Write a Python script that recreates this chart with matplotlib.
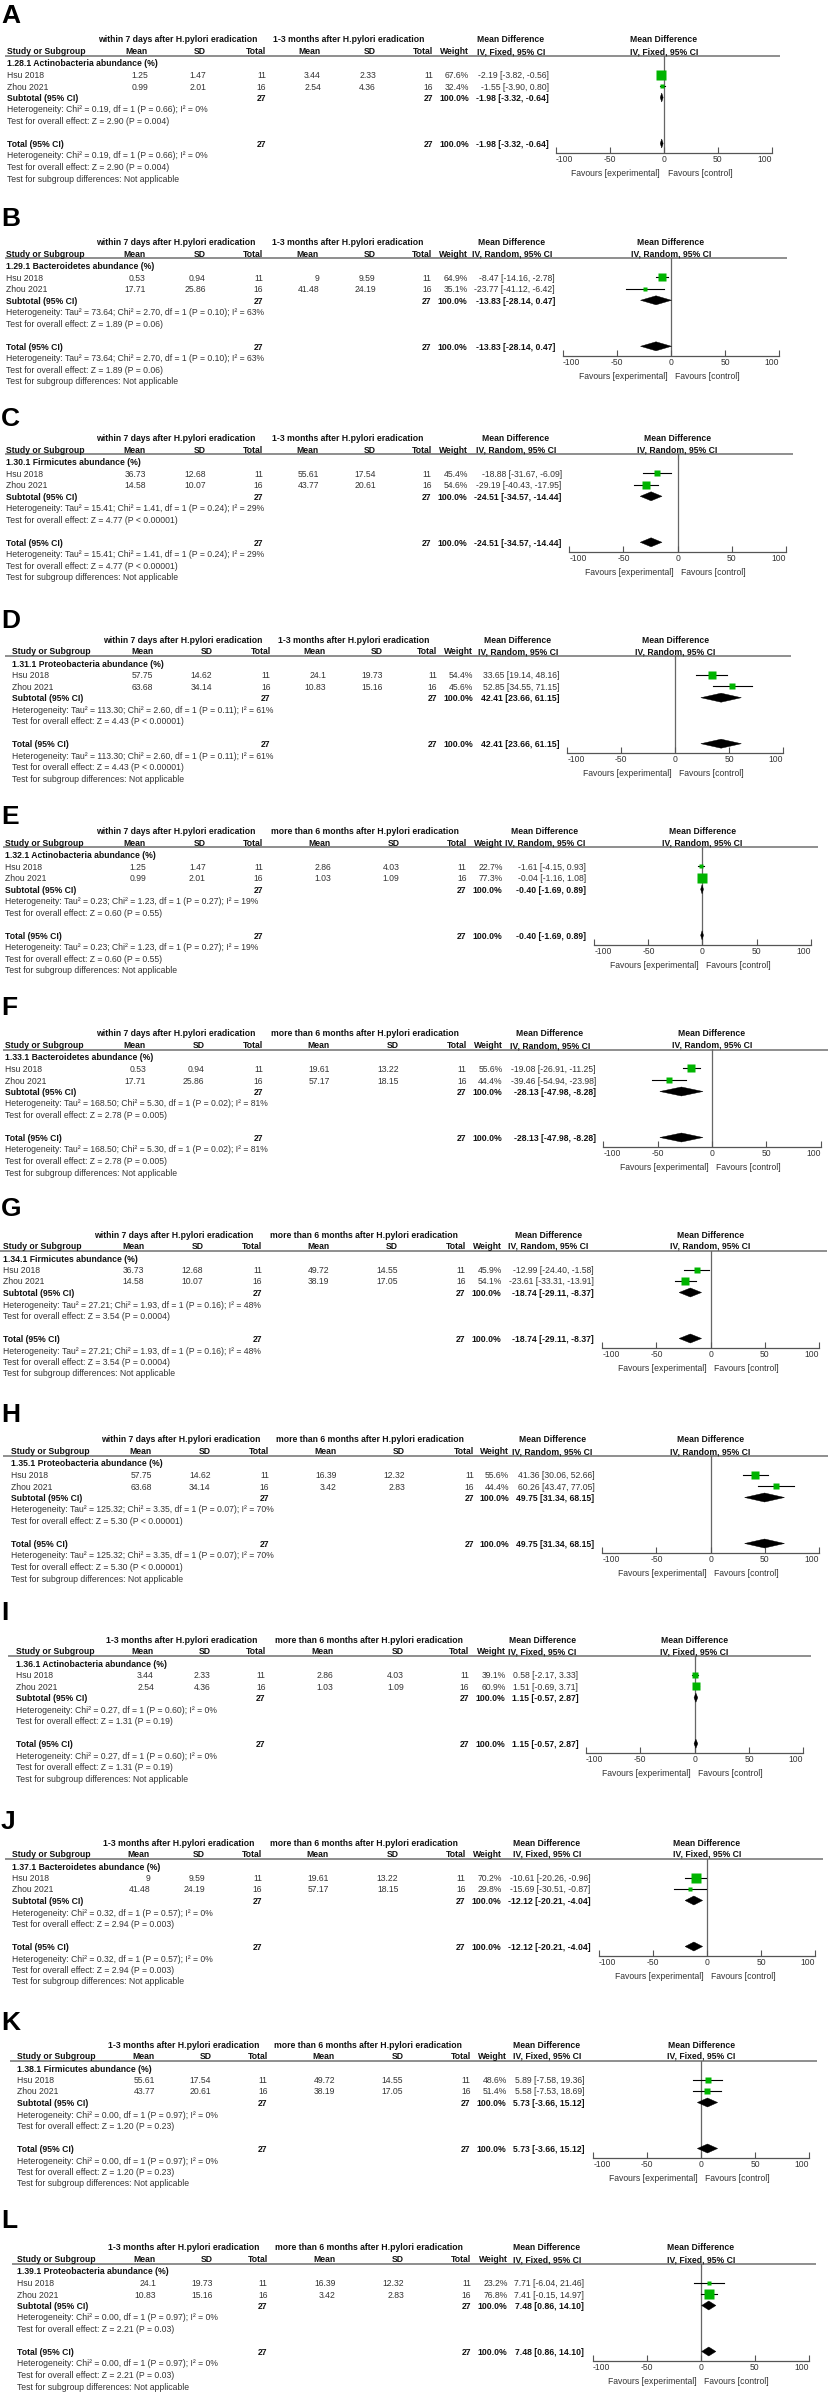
import matplotlib
matplotlib.use("Agg")
import matplotlib.pyplot as plt
from matplotlib import font_manager
from matplotlib.patches import Polygon

# RevMan text is narrow: use Liberation Sans Narrow when present, else shrink Liberation Sans
_names = {f.name for f in font_manager.fontManager.ttflist}
if "Liberation Sans Narrow" in _names:
    plt.rcParams["font.family"] = ["Liberation Sans Narrow", "DejaVu Sans"]
    FS = 7.4
else:
    plt.rcParams["font.family"] = ["Liberation Sans", "DejaVu Sans"]
    FS = 6.2

# ---------------- data ----------------
letters = list("ABCDEFGHIJKL")
studies = ["Hsu 2018", "Zhou 2021"]
n_per_study = [11, 16]
group1_labels = ["within 7 days after H.pylori eradication"] * 8 + ["1-3 months after H.pylori eradication"] * 4
group2_labels = ["1-3 months after H.pylori eradication"] * 4 + ["more than 6 months after H.pylori eradication"] * 8
subgroups = ["1.28.1 Actinobacteria abundance (%)", "1.29.1 Bacteroidetes abundance (%)",
             "1.30.1 Firmicutes abundance (%)", "1.31.1 Proteobacteria abundance (%)",
             "1.32.1 Actinobacteria abundance (%)", "1.33.1 Bacteroidetes abundance (%)",
             "1.34.1 Firmicutes abundance (%)", "1.35.1 Proteobacteria abundance (%)",
             "1.36.1 Actinobacteria abundance (%)", "1.37.1 Bacteroidetes abundance (%)",
             "1.38.1 Firmicutes abundance (%)", "1.39.1 Proteobacteria abundance (%)"]
models = ["Fixed", "Random", "Random", "Random", "Random", "Random", "Random", "Random",
          "Fixed", "Fixed", "Fixed", "Fixed"]

exp_mean = [["1.25", "0.99"], ["0.53", "17.71"], ["36.73", "14.58"], ["57.75", "63.68"],
            ["1.25", "0.99"], ["0.53", "17.71"], ["36.73", "14.58"], ["57.75", "63.68"],
            ["3.44", "2.54"], ["9", "41.48"], ["55.61", "43.77"], ["24.1", "10.83"]]
exp_sd = [["1.47", "2.01"], ["0.94", "25.86"], ["12.68", "10.07"], ["14.62", "34.14"],
          ["1.47", "2.01"], ["0.94", "25.86"], ["12.68", "10.07"], ["14.62", "34.14"],
          ["2.33", "4.36"], ["9.59", "24.19"], ["17.54", "20.61"], ["19.73", "15.16"]]
ctl_mean = [["3.44", "2.54"], ["9", "41.48"], ["55.61", "43.77"], ["24.1", "10.83"],
            ["2.86", "1.03"], ["19.61", "57.17"], ["49.72", "38.19"], ["16.39", "3.42"],
            ["2.86", "1.03"], ["19.61", "57.17"], ["49.72", "38.19"], ["16.39", "3.42"]]
ctl_sd = [["2.33", "4.36"], ["9.59", "24.19"], ["17.54", "20.61"], ["19.73", "15.16"],
          ["4.03", "1.09"], ["13.22", "18.15"], ["14.55", "17.05"], ["12.32", "2.83"],
          ["4.03", "1.09"], ["13.22", "18.15"], ["14.55", "17.05"], ["12.32", "2.83"]]
weights = [[67.6, 32.4], [64.9, 35.1], [45.4, 54.6], [54.4, 45.6], [22.7, 77.3], [55.6, 44.4],
           [45.9, 54.1], [55.6, 44.4], [39.1, 60.9], [70.2, 29.8], [48.6, 51.4], [23.2, 76.8]]
md = [[-2.19, -1.55], [-8.47, -23.77], [-18.88, -29.19], [33.65, 52.85], [-1.61, -0.04],
      [-19.08, -39.46], [-12.99, -23.61], [41.36, 60.26], [0.58, 1.51], [-10.61, -15.69],
      [5.89, 5.58], [7.71, 7.41]]
md_lo = [[-3.82, -3.90], [-14.16, -41.12], [-31.67, -40.43], [19.14, 34.55], [-4.15, -1.16],
         [-26.91, -54.94], [-24.40, -33.31], [30.06, 43.47], [-2.17, -0.69], [-20.26, -30.51],
         [-7.58, -7.53], [-6.04, -0.15]]
md_hi = [[-0.56, 0.80], [-2.78, -6.42], [-6.09, -17.95], [48.16, 71.15], [0.93, 1.08],
         [-11.25, -23.98], [-1.58, -13.91], [52.66, 77.05], [3.33, 3.71], [-0.96, -0.87],
         [19.36, 18.69], [21.46, 14.97]]
pooled_md = [-1.98, -13.83, -24.51, 42.41, -0.40, -28.13, -18.74, 49.75, 1.15, -12.12, 5.73, 7.48]
pooled_lo = [-3.32, -28.14, -34.57, 23.66, -1.69, -47.98, -29.11, 31.34, -0.57, -20.21, -3.66, 0.86]
pooled_hi = [-0.64, 0.47, -14.44, 61.15, 0.89, -8.28, -8.37, 68.15, 2.87, -4.04, 15.12, 14.10]
tau2 = [None, "73.64", "15.41", "113.30", "0.23", "168.50", "27.21", "125.32", None, None, None, None]
chi2 = ["0.19", "2.70", "1.41", "2.60", "1.23", "5.30", "1.93", "3.35", "0.27", "0.32", "0.00", "0.00"]
p_het = ["0.66", "0.10", "0.24", "0.11", "0.27", "0.02", "0.16", "0.07", "0.60", "0.57", "0.97", "0.97"]
i2 = ["0", "63", "29", "61", "19", "81", "48", "70", "0", "0", "0", "0"]
z_val = ["2.90", "1.89", "4.77", "4.43", "0.60", "2.78", "3.54", "5.30", "1.31", "2.94", "1.20", "2.21"]
p_z = ["= 0.004", "= 0.06", "< 0.00001", "< 0.00001", "= 0.55", "= 0.005", "= 0.0004",
       "< 0.00001", "= 0.19", "= 0.003", "= 0.23", "= 0.03"]
tick_vals = [-100, -50, 0, 50, 100]

# ---------------- layout (pixel positions of each panel) ----------------
# letter_y, line_y, line_x0, text_x, mean1, sd1, tot1, grp1_c, mean2, sd2, grp2_c, tot2, weight, md, mdhead_c, x(-100), x(100), line_x1
layout = [
    (16, 55.5, 5, 7, 148, 206, 266, 177.5, 321, 376, 349, 433, 469, 549, 511, 555.7, 772, 780),
    (219, 258.3, 5, 5.7, 145.7, 205.7, 263.3, 176, 319, 375.7, 348, 431.7, 467.7, 555, 511.7, 562.7, 779.3, 786.7),
    (419.5, 454.3, 5, 5.7, 145.7, 205.7, 263.3, 176, 319, 375.7, 348, 431.7, 467.7, 561.7, 515.7, 569.3, 786, 793.3),
    (620.7, 655.7, 5, 12.3, 153.3, 212.3, 270.7, 182.5, 326, 382.3, 353.8, 437.3, 473.3, 559.3, 517.7, 567.3, 783.3, 790.7),
    (816.7, 847.3, 3, 5, 146, 205.7, 263.3, 175.5, 331, 399.3, 365, 466.7, 502.7, 586, 545, 594.3, 810.7, 818.3),
    (1008, 1049.5, 3, 5, 146, 204.3, 263.3, 175.4, 330, 399, 364.8, 466.7, 502.7, 596, 550, 603.3, 820.7, 828),
    (1209, 1250.5, 0, 3.3, 144.3, 203.3, 262.3, 173.7, 329.3, 397.7, 363.8, 465.7, 501.7, 594, 548.3, 602.3, 819, 826.7),
    (1415, 1455.5, 3.3, 10.7, 151.7, 210.7, 269, 181, 336.7, 405, 370.3, 474, 509, 594.3, 552.3, 602.3, 819, 828),
    (1612.5, 1655.7, 8.3, 15.7, 154, 210.7, 265.7, 182, 333.3, 404, 368.7, 469.3, 505.7, 578.3, 542.3, 586, 803.3, 810.7),
    (1822, 1858.5, 5, 11.7, 150, 205, 262.3, 178.5, 329, 398.3, 363.8, 465.7, 501.7, 590.7, 546.7, 598.7, 815.3, 822.7),
    (2023, 2060.5, 10, 16.7, 155, 211.3, 267.7, 183.5, 335, 403.3, 368, 470.7, 506.7, 585, 546.7, 593.3, 809.3, 816.7),
    (2221, 2263.5, 11.7, 17, 156, 212.3, 267.7, 184, 335.7, 404, 369, 471, 507.7, 584.3, 546.7, 592.7, 808.7, 816),
]

W, H = 829, 2395
TXT = "#333333"
BLD = "#111111"
GREEN = "#00b400"
ROW0, ROWH = 7.5, 11.5      # first row offset below header line, row pitch (px)
AXIS_OFF = 97.5             # x-axis offset below header line (px)


def row_off(i):
    return ROW0 + ROWH * i


fig = plt.figure(figsize=(W / 100, H / 100), dpi=100)
canvas = fig.add_axes([0, 0, 1, 1])
canvas.set_xlim(0, W); canvas.set_ylim(H, 0); canvas.axis("off")


def t(x, y, s, ha="left", bold=False, va="center_baseline"):
    canvas.text(x, y, s, ha=ha, va=va, fontsize=FS,
                fontweight="bold" if bold else "normal", color=BLD if bold else TXT)


for k in range(12):
    (ly_letter, ly, lx0, tx, m1, s1, t1, g1, m2, s2, g2, t2, wr, mdr, mdh, xm, xp, lx1) = layout[k]

    canvas.text(1, ly_letter, letters[k], fontsize=19, fontweight="bold", ha="left", va="center",
                color="black", family=["Liberation Sans", "DejaVu Sans"])

    # headers
    t(g1, ly - 13, group1_labels[k], ha="center", bold=True, va="baseline")
    t(g2, ly - 13, group2_labels[k], ha="center", bold=True, va="baseline")
    t(mdh, ly - 13, "Mean Difference", ha="center", bold=True, va="baseline")
    t(mdh, ly - 1.5, f"IV, {models[k]}, 95% CI", ha="center", bold=True, va="baseline")
    t(tx, ly - 1.5, "Study or Subgroup", bold=True, va="baseline")
    for xr, lab in [(m1, "Mean"), (s1, "SD"), (t1, "Total"), (m2, "Mean"), (s2, "SD"),
                    (t2, "Total"), (wr, "Weight")]:
        t(xr, ly - 1.5, lab, ha="right", bold=True, va="baseline")
    canvas.plot([lx0, lx1], [ly, ly], color="#707070", lw=1.1, solid_capstyle="butt")

    # table rows
    t(tx, ly + row_off(0), subgroups[k], bold=True)
    for j in range(2):
        y = ly + row_off(1 + j)
        t(tx, y, studies[j])
        t(m1, y, exp_mean[k][j], ha="right")
        t(s1, y, exp_sd[k][j], ha="right")
        t(t1, y, str(n_per_study[j]), ha="right")
        t(m2, y, ctl_mean[k][j], ha="right")
        t(s2, y, ctl_sd[k][j], ha="right")
        t(t2, y, str(n_per_study[j]), ha="right")
        t(wr, y, f"{weights[k][j]:.1f}%", ha="right")
        t(mdr, y, f"{md[k][j]:.2f} [{md_lo[k][j]:.2f}, {md_hi[k][j]:.2f}]", ha="right")

    if tau2[k] is None:
        het = f"Heterogeneity: Chi\u00b2 = {chi2[k]}, df = 1 (P = {p_het[k]}); I\u00b2 = {i2[k]}%"
    else:
        het = (f"Heterogeneity: Tau\u00b2 = {tau2[k]}; Chi\u00b2 = {chi2[k]}, df = 1 (P = {p_het[k]}); "
               f"I\u00b2 = {i2[k]}%")
    overall = f"Test for overall effect: Z = {z_val[k]} (P {p_z[k]})"
    total_n = str(sum(n_per_study))
    pooled_txt = f"{pooled_md[k]:.2f} [{pooled_lo[k]:.2f}, {pooled_hi[k]:.2f}]"
    for r, lab in [(3, "Subtotal (95% CI)"), (7, "Total (95% CI)")]:
        y = ly + row_off(r)
        t(tx, y, lab, bold=True)
        t(t1, y, total_n, ha="right", bold=True)
        t(t2, y, total_n, ha="right", bold=True)
        t(wr, y, "100.0%", ha="right", bold=True)
        t(mdr, y, pooled_txt, ha="right", bold=True)
        t(tx, y + ROWH, het)
        t(tx, y + 2 * ROWH, overall)
    t(tx, ly + row_off(10), "Test for subgroup differences: Not applicable")

    # forest plot
    ax = fig.add_axes([xm / W, 1 - (ly + AXIS_OFF) / H, (xp - xm) / W, AXIS_OFF / H])
    ax.patch.set_visible(False)
    ax.set_xlim(tick_vals[0], tick_vals[-1])
    ax.set_ylim(AXIS_OFF, 0)
    ax.axvline(0, color="#666666", lw=0.9, zorder=1)
    for j in range(2):
        y = row_off(1 + j)
        ax.plot([md_lo[k][j], md_hi[k][j]], [y, y], color="black", lw=0.8, zorder=2)
        ax.plot(md[k][j], y, marker="s", ms=0.135 * weights[k][j] * 0.72, color=GREEN,
                mec="none", zorder=3)
    for r in (3, 7):
        y = row_off(r)
        ax.add_patch(Polygon([(pooled_lo[k], y), (pooled_md[k], y - 4.5), (pooled_hi[k], y),
                              (pooled_md[k], y + 4.5)], closed=True, fc="black", ec="black",
                             lw=0.3, zorder=3))
    for side in ("top", "right", "left"):
        ax.spines[side].set_visible(False)
    ax.spines["bottom"].set_color("#555555")
    ax.spines["bottom"].set_linewidth(0.9)
    ax.set_yticks([])
    ax.set_xticks(tick_vals)
    ax.set_xticklabels([str(v) for v in tick_vals])
    ax.tick_params(axis="x", direction="in", length=4, width=0.8, color="#555555", pad=1.5,
                   labelsize=FS, labelcolor=TXT)
    labs = ax.get_xticklabels()
    labs[0].set_ha("left"); labs[-1].set_ha("right")
    ax.text(0, -13, "Mean Difference", ha="center", va="baseline", fontsize=FS,
            fontweight="bold", color=BLD, clip_on=False)
    ax.text(0, -1.5, f"IV, {models[k]}, 95% CI", ha="center", va="baseline", fontsize=FS,
            fontweight="bold", color=BLD, clip_on=False)
    ax.text(-3.5, AXIS_OFF + 19.5, "Favours [experimental]", ha="right", va="center_baseline",
            fontsize=FS, color=TXT, clip_on=False)
    ax.text(3.5, AXIS_OFF + 19.5, "Favours [control]", ha="left", va="center_baseline",
            fontsize=FS, color=TXT, clip_on=False)

fig.savefig("out.png", dpi=100)
